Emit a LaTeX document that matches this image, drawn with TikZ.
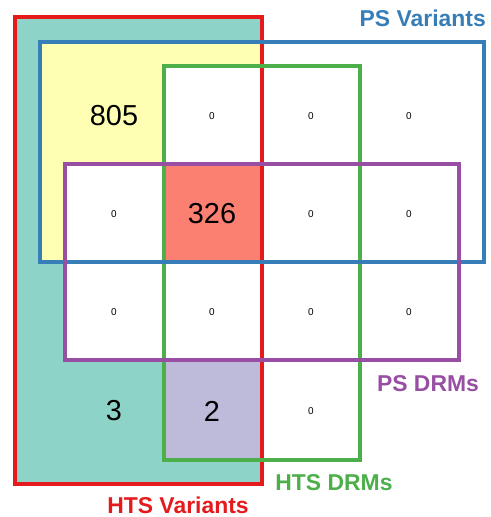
\documentclass[tikz,border=0pt]{standalone}
\usepackage{fontspec}
\setmainfont{Liberation Sans}
\usepackage{tikz}

\definecolor{htsred}{HTML}{E41A1C}
\definecolor{psblue}{HTML}{377EB8}
\definecolor{htsgreen}{HTML}{4DAF4A}
\definecolor{pspurple}{HTML}{984EA3}
\definecolor{tealfill}{HTML}{8DD3C7}
\definecolor{yellowfill}{HTML}{FFFFB3}
\definecolor{salmonfill}{HTML}{FB8072}
\definecolor{lavenderfill}{HTML}{BEBADA}

\begin{document}
\begin{tikzpicture}[x=1bp, y=-1bp,
    setbox/.style={line width=3.5bp},
    count/.style={font=\fontsize{29}{29}\selectfont},
    zero/.style={font=\fontsize{10}{10}\selectfont},
    setlabel/.style={inner sep=0pt, font=\fontsize{23}{23}\selectfont\bfseries}]
        \useasboundingbox (0, 0) rectangle (491, 517);

        % fills of the HTS Variants box
        \fill[tealfill] (15, 17) rectangle (262, 484);
        \begin{scope}
            \clip (15, 17) rectangle (262, 484);
            \clip (164, 66) rectangle (360, 460);
            \fill[lavenderfill] (0, 0) rectangle (491, 517);
        \end{scope}
        \begin{scope}
            \clip (15, 17) rectangle (262, 484);
            \clip (40, 42) rectangle (484, 262);
            \fill[yellowfill] (0, 0) rectangle (491, 517);
            \clip (164, 66) rectangle (360, 460);
            \fill[white] (0, 0) rectangle (491, 517);
        \end{scope}
        \begin{scope}
            \clip (15, 17) rectangle (262, 484);
            \clip (65, 164) rectangle (459, 360);
            \fill[white] (0, 0) rectangle (491, 517);
        \end{scope}
        \begin{scope}
            \clip (15, 17) rectangle (262, 484);
            \clip (40, 42) rectangle (484, 262);
            \clip (164, 66) rectangle (360, 460);
            \clip (65, 164) rectangle (459, 360);
            \fill[salmonfill] (0, 0) rectangle (491, 517);
        \end{scope}

        % the four sets
        \draw[setbox, htsred] (15, 17) rectangle (262, 484);
        \draw[setbox, htsgreen] (164, 66) rectangle (360, 460);
        \draw[setbox, psblue] (40, 42) rectangle (484, 262);
        \draw[setbox, pspurple] (65, 164) rectangle (459, 360);

        % counts
        \node[count] (c805) at (114, 116) {805};
        \node[count] (c326) at (212, 214) {326};
        \node[count] (c3) at (114, 411) {3};
        \node[count] (c2) at (212, 411) {2};
        \foreach \x/\y [count=\i] in {212/116, 311/116, 409/116, 114/214, 311/214,
                409/214, 114/312, 212/312, 311/312, 409/312, 311/411}
            \node[zero] (z\i) at (\x, \y) {0};

        % set names
        \node[setlabel, psblue, anchor=east] (psvar) at (486, 18) {PS Variants};
        \node[setlabel, pspurple] (psdrm) at (428, 384) {PS DRMs};
        \node[setlabel, htsgreen] (htsdrm) at (334, 483) {HTS DRMs};
        \node[setlabel, htsred] (htsvar) at (178, 505) {HTS Variants};
    \end{tikzpicture}
\end{document}
